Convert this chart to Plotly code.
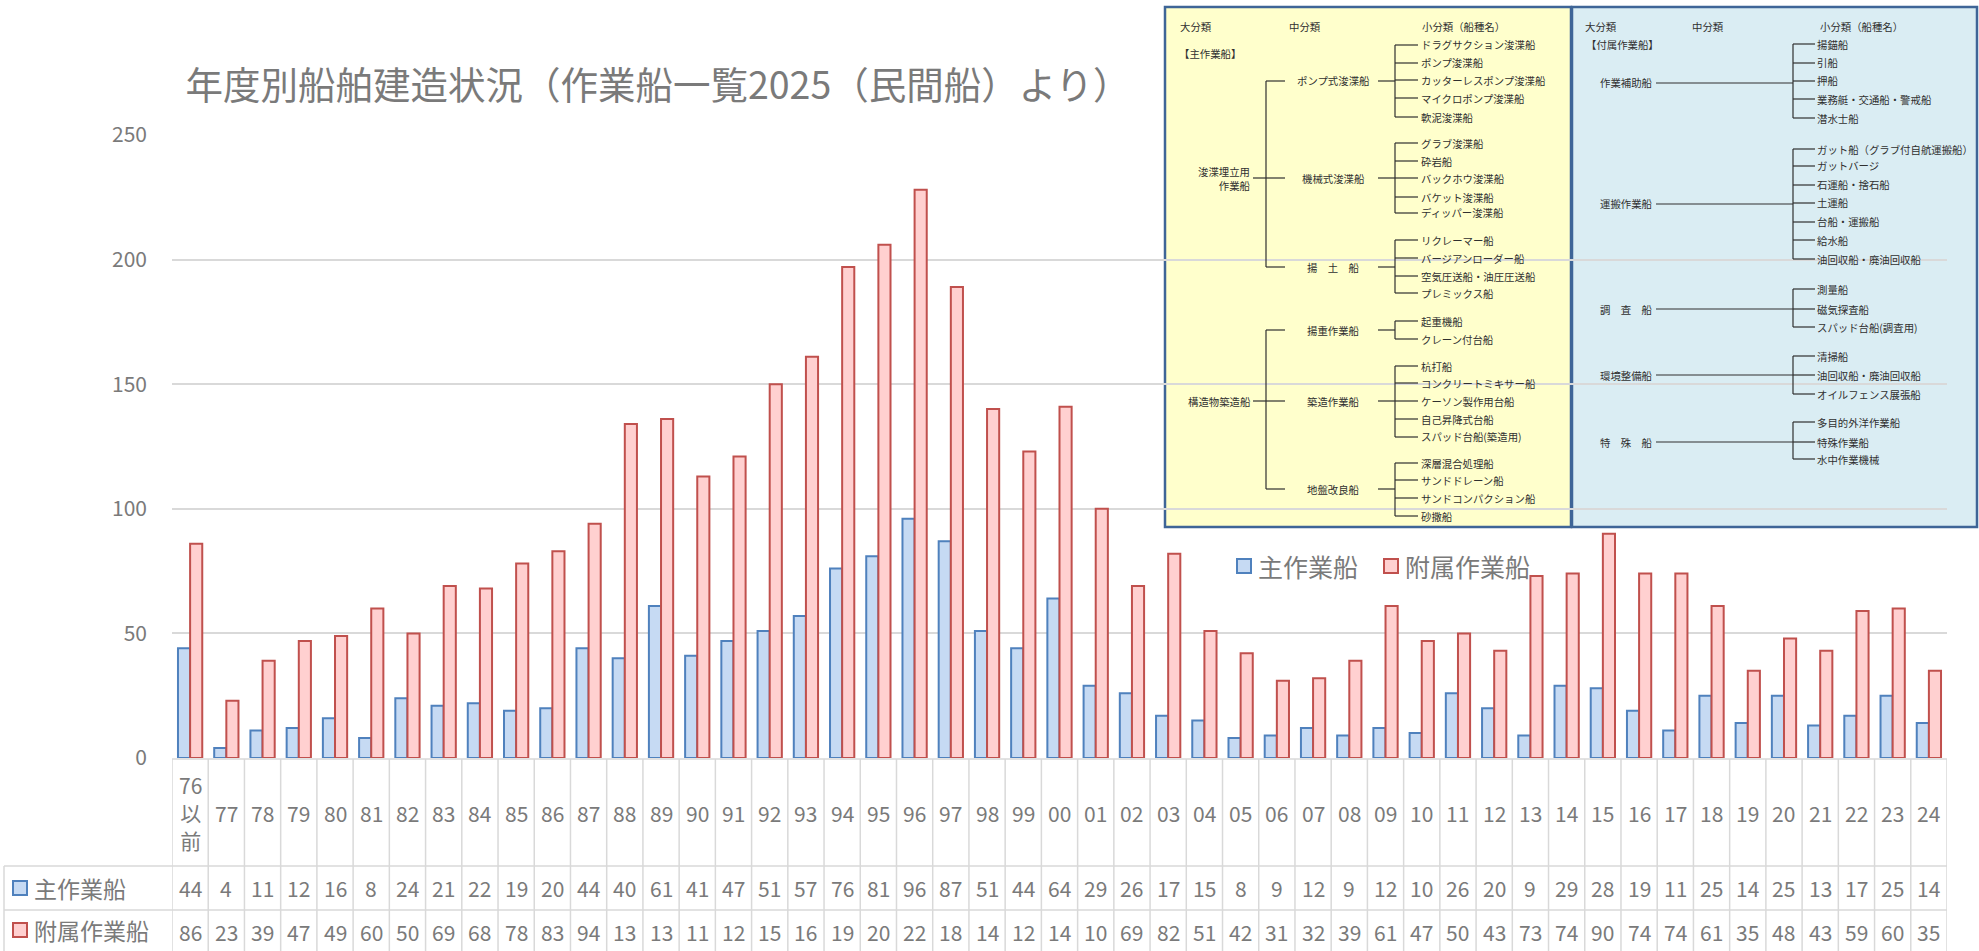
import plotly.graph_objects as go

# ---------------- data ----------------
categories = ["76以前", "77", "78", "79", "80", "81", "82", "83", "84", "85",
              "86", "87", "88", "89", "90", "91", "92", "93", "94", "95",
              "96", "97", "98", "99", "00", "01", "02", "03", "04", "05",
              "06", "07", "08", "09", "10", "11", "12", "13", "14", "15",
              "16", "17", "18", "19", "20", "21", "22", "23", "24"]
main_vessels = [44, 4, 11, 12, 16, 8, 24, 21, 22, 19,
                20, 44, 40, 61, 41, 47, 51, 57, 76, 81,
                96, 87, 51, 44, 64, 29, 26, 17, 15, 8,
                9, 12, 9, 12, 10, 26, 20, 9, 29, 28,
                19, 11, 25, 14, 25, 13, 17, 25, 14]
aux_vessels = [86, 23, 39, 47, 49, 60, 50, 69, 68, 78,
               83, 94, 134, 136, 113, 121, 150, 161, 197, 206,
               228, 189, 140, 123, 141, 100, 69, 82, 51, 42,
               31, 32, 39, 61, 47, 50, 43, 73, 74, 90,
               74, 74, 61, 35, 48, 43, 59, 60, 35]
series_names = ["主作業船", "附属作業船"]
title_text = "年度別船舶建造状況（作業船一覧2025（民間船）より）"
y_ticks = [0, 50, 100, 150, 200, 250]

# classification inset contents
main_headers = ["大分類", "中分類", "小分類（船種名）"]
main_tag = "【主作業船】"
main_groups = [
    ("ポンプ式浚渫船", ["ドラグサクション浚渫船", "ポンプ浚渫船", "カッターレスポンプ浚渫船", "マイクロポンプ浚渫船", "軟泥浚渫船"]),
    ("機械式浚渫船", ["グラブ浚渫船", "砕岩船", "バックホウ浚渫船", "バケット浚渫船", "ディッパー浚渫船"]),
    ("揚　土　船", ["リクレーマー船", "バージアンローダー船", "空気圧送船・油圧圧送船", "プレミックス船"]),
    ("揚重作業船", ["起重機船", "クレーン付台船"]),
    ("築造作業船", ["杭打船", "コンクリートミキサー船", "ケーソン製作用台船", "自己昇降式台船", "スパッド台船(築造用)"]),
    ("地盤改良船", ["深層混合処理船", "サンドドレーン船", "サンドコンパクション船", "砂撒船"]),
]
main_big = [("浚渫埋立用<br>　　作業船", [0, 1, 2]), ("構造物築造船", [3, 4, 5])]
aux_tag = "【付属作業船】"
aux_groups = [
    ("作業補助船", ["揚錨船", "引船", "押船", "業務艇・交通船・警戒船", "潜水士船"]),
    ("運搬作業船", ["ガット船（グラブ付自航運搬船）", "ガットバージ", "石運船・捨石船", "土運船", "台船・運搬船", "給水船", "油回収船・廃油回収船"]),
    ("調　査　船", ["測量船", "磁気探査船", "スパッド台船(調査用)"]),
    ("環境整備船", ["清掃船", "油回収船・廃油回収船", "オイルフェンス展張船"]),
    ("特　殊　船", ["多目的外洋作業船", "特殊作業船", "水中作業機械"]),
]

# ---------------- layout helpers (pixel -> paper) ----------------
W, H = 1979, 951
X0, X1 = 172, 1947
Y0, Y1 = 758, 135
def px(x):
    return (x - X0) / (X1 - X0)
def py(y):
    return (Y0 - y) / (Y0 - Y1)

FONT = "Noto Sans CJK JP, Noto Sans, sans-serif"
GREY = "#7a7a7a"
BLUE_FILL, BLUE_LINE = "#C6DAF3", "#4F81BD"
RED_FILL, RED_LINE = "#FFD0D0", "#C0504D"
GRID = "#d9d9d9"
INSET_SIZE = 10.4

fig = go.Figure()
fig.add_trace(go.Bar(x=categories, y=main_vessels, name=series_names[0], showlegend=False,
                     marker=dict(color=BLUE_FILL, line=dict(color=BLUE_LINE, width=2))))
fig.add_trace(go.Bar(x=categories, y=aux_vessels, name=series_names[1], showlegend=False,
                     marker=dict(color=RED_FILL, line=dict(color=RED_LINE, width=2))))

shapes = []
annotations = []

def line(x0, y0, x1, y1, color="#303030", width=1.2, layer="above"):
    shapes.append(dict(type="line", xref="paper", yref="paper",
                       x0=px(x0), y0=py(y0), x1=px(x1), y1=py(y1),
                       line=dict(color=color, width=width), layer=layer))

def text(x, y, s, anchor="left", size=INSET_SIZE, color="#303030"):
    annotations.append(dict(xref="paper", yref="paper", x=px(x), y=py(y), text=s,
                            showarrow=False, xanchor=anchor, yanchor="middle",
                            font=dict(family=FONT, size=size, color=color)))

def key(x, y, name, fill, lc, size):
    shapes.append(dict(type="rect", xref="paper", yref="paper", x0=px(x), x1=px(x + 14),
                       y0=py(y + 7), y1=py(y - 7), fillcolor=fill, line=dict(color=lc, width=2)))
    text(x + 19, y, name, size=size, color=GREY)

# ---------------- inset panels ----------------
shapes.append(dict(type="rect", xref="paper", yref="paper", x0=px(1165), x1=px(1571),
                   y0=py(527), y1=py(7), fillcolor="#FFFFCC",
                   line=dict(color="#3E6597", width=2.5), layer="below"))
shapes.append(dict(type="rect", xref="paper", yref="paper", x0=px(1572), x1=px(1977),
                   y0=py(527), y1=py(7), fillcolor="#DAEDF3",
                   line=dict(color="#3E6597", width=2.5), layer="below"))

# main (yellow) panel
for s, x in zip(main_headers, [1178, 1287, 1420]):
    text(x, 27, s)
text(1177, 54, main_tag)
item_y_main = [[45, 63, 80, 98, 117], [143, 161, 178, 197, 213], [240, 258, 276, 293],
               [321, 339], [366, 383, 401, 419, 437], [463, 480, 498, 516]]
mid_y_main = [81, 178, 267, 330, 401, 489]
for (mid, items), ys, my in zip(main_groups, item_y_main, mid_y_main):
    text(1333, my, mid, anchor="center")
    line(1266, my, 1285, my)
    line(1378, my, 1395, my)
    line(1395, ys[0], 1395, ys[-1])
    for it, yy in zip(items, ys):
        line(1395, yy, 1418, yy)
        text(1419, yy, it)
big_y_main = [178, 401]
for (big, idx), by in zip(main_big, big_y_main):
    text(1253, by, big, anchor="right")
    line(1253, by, 1266, by)
    line(1266, mid_y_main[idx[0]], 1266, mid_y_main[idx[-1]])

# auxiliary (blue) panel
for s, x in zip(main_headers, [1583, 1690, 1818]):
    text(x, 27, s)
text(1584, 45, aux_tag)
item_y_aux = [[44, 63, 81, 99, 118], [149, 166, 185, 203, 222, 240, 259],
              [289, 309, 327], [356, 375, 394], [422, 442, 459]]
big_y_aux = [83, 204, 309, 375, 442]
for (big, items), ys, by in zip(aux_groups, item_y_aux, big_y_aux):
    text(1655, by, big, anchor="right")
    line(1656, by, 1793, by)
    line(1793, ys[0], 1793, ys[-1])
    for it, yy in zip(items, ys):
        line(1793, yy, 1815, yy)
        text(1815, yy, it)

# ---------------- legend (inside plot) ----------------
key(1237, 566, series_names[0], BLUE_FILL, BLUE_LINE, 25)
key(1384, 566, series_names[1], RED_FILL, RED_LINE, 25)

# ---------------- data table under the chart ----------------
TL = dict(color=GRID, width=1.5)
n = len(categories)
shapes.append(dict(type="line", xref="paper", yref="paper", x0=0, x1=1, y0=py(759), y1=py(759), line=TL))
for yy in [866, 910]:
    shapes.append(dict(type="line", xref="paper", yref="paper", x0=px(4), x1=1, y0=py(yy), y1=py(yy), line=TL))
for i in range(n + 1):
    shapes.append(dict(type="line", xref="x", yref="paper", x0=i - 0.5, x1=i - 0.5,
                       y0=py(759), y1=py(960), line=TL))
shapes.append(dict(type="line", xref="paper", yref="paper", x0=px(4), x1=px(4),
                   y0=py(866), y1=py(960), line=TL))

TFONT = dict(family=FONT, size=21, color=GREY)
for i, c in enumerate(categories):
    lab = c if c.isdigit() else c[:2] + "<br>" + "<br>".join(c[2:])
    annotations.append(dict(xref="x", yref="paper", x=i, y=py(813), text=lab, showarrow=False,
                            xanchor="center", yanchor="middle", font=TFONT))
    annotations.append(dict(xref="x", yref="paper", x=i, y=py(888), text=str(main_vessels[i]),
                            showarrow=False, xanchor="center", yanchor="middle", font=TFONT))
    # the source table clips three-digit values to the cell width
    annotations.append(dict(xref="x", yref="paper", x=i, y=py(932), text=str(aux_vessels[i])[:2],
                            showarrow=False, xanchor="center", yanchor="middle", font=TFONT))

# row legend keys of the table
key(13, 888, series_names[0], BLUE_FILL, BLUE_LINE, 23)
key(13, 930, series_names[1], RED_FILL, RED_LINE, 23)

fig.update_layout(
    width=W, height=H,
    margin=dict(l=X0, r=W - X1, t=Y1, b=H - Y0, pad=0),
    paper_bgcolor="white", plot_bgcolor="rgba(0,0,0,0)",
    font=dict(family=FONT, color=GREY),
    title=dict(text=title_text, xref="container", yref="container", x=658 / W, y=1 - 86 / H,
               xanchor="center", yanchor="middle", font=dict(family=FONT, size=37.5, color=GREY)),
    barmode="group", bargap=0.33, bargroupgap=0,
    showlegend=False,
    xaxis=dict(type="category", showticklabels=False, showgrid=False, zeroline=False,
               showline=False, ticks="", range=[-0.5, n - 0.5]),
    yaxis=dict(range=[0, 250], tickvals=y_ticks, showgrid=True, gridcolor=GRID, gridwidth=1.5,
               zeroline=False, showline=False, ticks="", ticklabelstandoff=24,
               tickfont=dict(family=FONT, size=21, color=GREY)),
    shapes=shapes, annotations=annotations,
)

fig.write_html("out.html", config={"displayModeBar": False},
               post_script="document.body.style.margin='0';")
